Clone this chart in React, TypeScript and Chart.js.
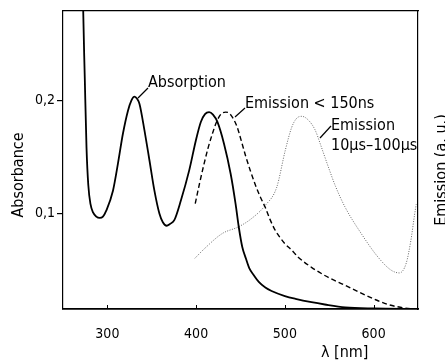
import React, { useEffect, useRef } from "react";
import { Chart, registerables } from "chart.js";

Chart.register(...registerables);

// ---- data ----
const ABS_WL = [270.5, 272.2, 274.6, 276.5, 278.5, 281, 284, 287.5, 291.4, 295, 299, 306.3, 311.9, 317.5, 323.2, 327, 330.6, 333.5, 336.2, 341.8, 347.4, 353, 358.6, 362.5, 366.8, 370.5, 375.4, 382.9, 392.2, 399.7, 405.3, 410, 414.6, 419, 424, 431.4, 438.9, 444.5, 448, 452, 456, 460, 465, 470.6, 478, 485, 500, 512, 530, 545, 568, 600, 650];
const ABS_VAL = [0.4, 0.3, 0.218, 0.158, 0.125, 0.108, 0.1005, 0.097, 0.0958, 0.097, 0.1027, 0.12, 0.144, 0.1705, 0.191, 0.2, 0.2035, 0.2015, 0.197, 0.1735, 0.147, 0.12, 0.0997, 0.092, 0.0889, 0.0905, 0.0938, 0.1115, 0.138, 0.1646, 0.181, 0.188, 0.1897, 0.1875, 0.181, 0.1617, 0.135, 0.108, 0.088, 0.07, 0.06, 0.051, 0.045, 0.039, 0.034, 0.031, 0.0265, 0.024, 0.021, 0.019, 0.0165, 0.0155, 0.015];

const EMF_WL = [399, 404, 409, 413.5, 418.3, 423, 428, 433.3, 437, 441, 446, 451, 455.7, 461, 466.8, 472, 478, 483, 489, 495, 500, 508, 515, 530, 549, 568, 586, 603, 616, 630, 642, 650];
const EMF_VAL = [0.1086, 0.127, 0.144, 0.158, 0.1705, 0.181, 0.188, 0.1897, 0.189, 0.185, 0.177, 0.164, 0.151, 0.138, 0.125, 0.115, 0.105, 0.095, 0.085, 0.078, 0.073, 0.067, 0.061, 0.052, 0.043, 0.036, 0.029, 0.023, 0.019, 0.0165, 0.0152, 0.015];

const EMS_WL = [398.6, 410, 429.5, 448, 462, 478, 490.8, 500.5, 507.6, 513, 519, 526, 534, 541, 549, 557, 567.7, 586, 605, 619.5, 629, 636.7, 642, 646, 648];
const EMS_VAL = [0.06, 0.069, 0.082, 0.088, 0.095, 0.107, 0.123, 0.156, 0.176, 0.184, 0.186, 0.183, 0.174, 0.159, 0.141, 0.124, 0.1056, 0.082, 0.061, 0.0496, 0.047, 0.0556, 0.076, 0.098, 0.108];

const X_TICKS = [300, 400, 500, 600];
const Y_TICKS = [0.1, 0.2];
const X_MIN = 250, X_MAX = 650, Y_MIN = 0.015, Y_MAX = 0.28;

const FONT = "'DejaVu Sans Condensed', 'Liberation Sans Narrow', 'DejaVu Sans', sans-serif";

const pts = (xs: number[], ys: number[]) => xs.map((x, i) => ({ x, y: ys[i] }));

const textPlugin = {
  id: "texts",
  afterDraw(chart: any) {
    const ctx = chart.ctx as CanvasRenderingContext2D;
    const xs = chart.scales.x;
    const area = chart.chartArea;
    ctx.save();
    // inner x tick marks
    ctx.strokeStyle = "#000";
    ctx.lineWidth = 1;
    X_TICKS.forEach((v) => {
      const px = Math.round(xs.getPixelForValue(v)) + 0.5;
      ctx.beginPath();
      ctx.moveTo(px, area.bottom);
      ctx.lineTo(px, area.bottom - 4);
      ctx.stroke();
    });
    ctx.fillStyle = "#000";
    ctx.font = `16px ${FONT}`;
    ctx.textBaseline = "alphabetic";
    ctx.textAlign = "left";
    const lead = (x1: number, y1: number, x2: number, y2: number) => {
      ctx.beginPath();
      ctx.moveTo(x1, y1);
      ctx.lineTo(x2, y2);
      ctx.stroke();
    };
    ctx.lineWidth = 1.2;
    lead(138, 98, 148, 88);
    ctx.fillText("Absorption", 148, 87);
    lead(235, 117, 245, 108);
    ctx.fillText("Emission < 150ns", 245, 108);
    lead(320, 138, 331, 126);
    ctx.fillText("Emission", 331, 130);
    ctx.fillText("10\u00b5s\u2013100\u00b5s", 331, 150);
    // axis titles
    ctx.fillText("\u03bb [nm]", 321, 357);
    ctx.save();
    ctx.translate(23, 175);
    ctx.rotate(-Math.PI / 2);
    ctx.textAlign = "center";
    ctx.fillText("Absorbance", 0, 0);
    ctx.restore();
    ctx.save();
    ctx.translate(446, 170);
    ctx.rotate(-Math.PI / 2);
    ctx.textAlign = "center";
    ctx.fillText("Emission (a. u.)", 0, 0);
    ctx.restore();
    ctx.restore();
  },
};

export default function App() {
  const ref = useRef<HTMLCanvasElement | null>(null);
  useEffect(() => {
    if (!ref.current) return;
    const chart = new Chart(ref.current, {
      type: "line",
      data: {
        datasets: [
          {
            label: "Absorption",
            data: pts(ABS_WL, ABS_VAL),
            borderColor: "#000",
            borderWidth: 1.8,
            pointRadius: 0,
            cubicInterpolationMode: "monotone",
          },
          {
            label: "Emission < 150ns",
            data: pts(EMF_WL, EMF_VAL),
            borderColor: "#000",
            borderWidth: 1.4,
            borderDash: [5, 3],
            pointRadius: 0,
            cubicInterpolationMode: "monotone",
          },
          {
            label: "Emission 10µs–100µs",
            data: pts(EMS_WL, EMS_VAL),
            borderColor: "#666",
            borderWidth: 1,
            borderDash: [1, 1.5],
            pointRadius: 0,
            cubicInterpolationMode: "monotone",
          },
        ],
      },
      plugins: [textPlugin],
      options: {
        animation: false,
        responsive: false,
        events: [],
        layout: { padding: 0 },
        plugins: { legend: { display: false }, tooltip: { enabled: false } },
        scales: {
          x: {
            type: "linear",
            position: "bottom",
            min: X_MIN,
            max: X_MAX,
            afterBuildTicks: (s: any) => {
              s.ticks = X_TICKS.map((v) => ({ value: v }));
            },
            afterFit: (s: any) => {
              s.height = 51;
            },
            grid: { display: false },
            border: { display: true, color: "#000", width: 1.8 },
            ticks: {
              color: "#000",
              font: { family: FONT, size: 14 },
              padding: 9,
              maxRotation: 0,
              autoSkip: false,
              callback: (v: any) => String(v),
            },
          },
          x2: {
            type: "linear",
            position: "top",
            min: X_MIN,
            max: X_MAX,
            afterFit: (s: any) => {
              s.height = 10;
            },
            grid: { display: false },
            border: { display: true, color: "#000", width: 1.2 },
            ticks: { display: false },
          },
          y: {
            type: "linear",
            position: "left",
            min: Y_MIN,
            max: Y_MAX,
            afterBuildTicks: (s: any) => {
              s.ticks = Y_TICKS.map((v) => ({ value: v }));
            },
            afterFit: (s: any) => {
              s.width = 63;
            },
            grid: { display: true, drawOnChartArea: false, drawTicks: true, tickLength: 6, color: "#000", lineWidth: 1.2 },
            border: { display: true, color: "#000", width: 1.2 },
            ticks: {
              color: "#000",
              font: { family: FONT, size: 14 },
              padding: 2,
              callback: (v: any) => Number(v).toFixed(1).replace(".", ","),
            },
          },
          y2: {
            type: "linear",
            position: "right",
            min: 0,
            max: 1,
            afterFit: (s: any) => {
              s.width = 27;
            },
            grid: { display: false },
            border: { display: true, color: "#000", width: 1.2 },
            ticks: { display: false },
          },
        },
      },
    } as any);
    return () => chart.destroy();
  }, []);
  return (
    <div style={{ position: "fixed", left: 0, top: 0, width: 445, height: 360, background: "#fff" }}>
      <canvas ref={ref} width={445} height={360} style={{ display: "block" }} />
    </div>
  );
}
